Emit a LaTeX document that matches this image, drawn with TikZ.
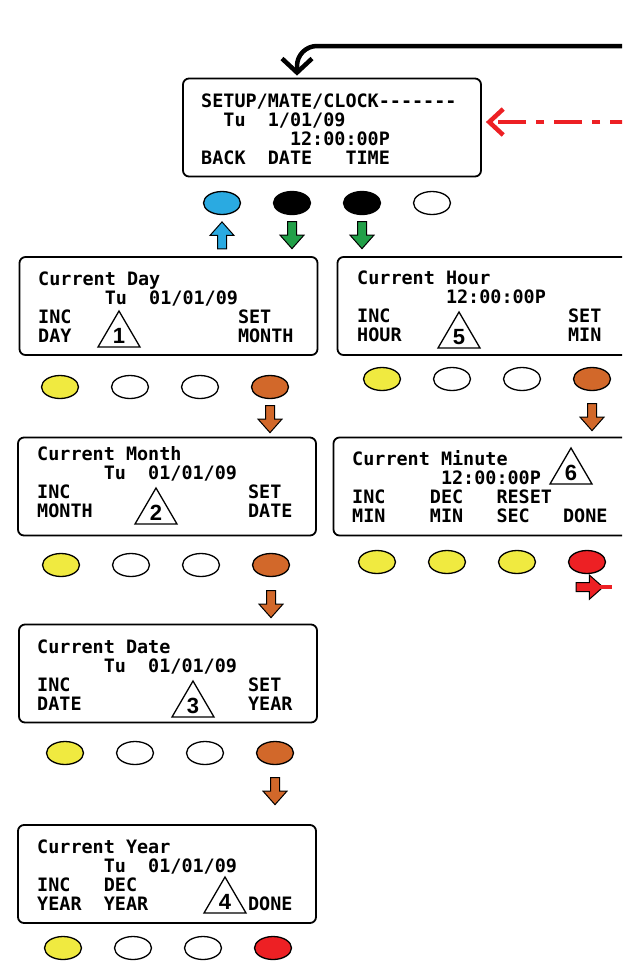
\documentclass[tikz,border=0pt]{standalone}
\usepackage{fontspec}
\newfontfamily\lcdfont{DejaVu Sans Mono}
\newfontfamily\numfont{Liberation Sans}
\usetikzlibrary{arrows.meta,shapes.geometric,shapes.arrows,positioning}

\definecolor{btnyellow}{RGB}{240,234,64}
\definecolor{btnorange}{RGB}{210,104,42}
\definecolor{btnblue}{RGB}{42,170,225}
\definecolor{btngreen}{RGB}{34,160,72}
\definecolor{btnred}{RGB}{237,32,36}

\newlength\lcdch
\newcommand\sk[1]{\hspace*{#1\lcdch}}

\tikzset{
  screen/.style={draw, rounded corners=6pt, line width=1.8pt, minimum width=298pt, minimum height=98pt, inner sep=0pt},
  lcd/.style={anchor=base west, inner sep=0pt, font=\lcdfont\bfseries\fontsize{18.44}{19}\selectfont},
  num/.style={anchor=base, inner sep=0pt, font=\numfont\bfseries\fontsize{22}{22}\selectfont},
  btn/.style={ellipse, draw, line width=1.3pt, minimum width=37pt, minimum height=23pt, inner sep=0pt, fill=#1},
  blk/.style={single arrow, draw, line width=1pt, fill=#1, minimum width=23pt, minimum height=27pt, inner sep=4pt,
    single arrow head extend=7.5pt, single arrow tip angle=83},
  pointup/.style={shape border rotate=90},
  pointdown/.style={shape border rotate=270},
  stepmark/.pic={
    \draw[line width=1.3pt] (0,0) -- (21,36) -- (-21,36) -- cycle;
    \node[num] (-n) at (0,32) {#1};
  },
}

\begin{document}
\settowidth{\lcdch}{\lcdfont\bfseries\fontsize{18.44}{19}\selectfont 0}%
\begin{tikzpicture}[x=1pt, y=-1pt]
  \fill[white] (0,0) rectangle (622,962);
  \useasboundingbox (0,0) rectangle (622,962);
  \clip (0,0) rectangle (622,962);

  % screens
  \node[screen] (setup) at (332,127.5) {};
  \node[screen] (day) at (168.5,306) {};
  \node[screen] (month) at (167,486.5) {};
  \node[screen] (date) at (168,673.5) {};
  \node[screen] (year) at (167,874) {};
  \node[screen] (hour) at (486.5,306) {};
  \node[screen] (minute) at (482.5,486.5) {};

  % screen texts
  \foreach \t [count=\i from 0] in {{SETUP/MATE/CLOCK-{}-{}-{}-{}-{}-{}-}, {\sk{2}Tu\sk{2}1/01/09}, {\sk{8}12:00:00P}, {BACK\sk{2}DATE\sk{3}TIME}}
    \node[lcd] (setup-l\i) at (201, 107+19.3*\i) {\t};
  \foreach \t [count=\i from 0] in {{Current Day}, {\sk{6}Tu\sk{2}01/01/09}, {INC\sk{15}SET}, {DAY\sk{15}MONTH}}
    \node[lcd] (day-l\i) at (38, 285+19.3*\i) {\t};
  \foreach \t [count=\i from 0] in {{Current Month}, {\sk{6}Tu\sk{2}01/01/09}, {INC\sk{16}SET}, {MONTH\sk{14}DATE}}
    \node[lcd] (month-l\i) at (37, 460+19.3*\i) {\t};
  \foreach \t [count=\i from 0] in {{Current Date}, {\sk{6}Tu\sk{2}01/01/09}, {INC\sk{16}SET}, {DATE\sk{15}YEAR}}
    \node[lcd] (date-l\i) at (37, 653+19.3*\i) {\t};
  \foreach \t [count=\i from 0] in {{Current Year}, {\sk{6}Tu\sk{2}01/01/09}, {INC\sk{3}DEC}, {YEAR\sk{2}YEAR\sk{9}DONE}}
    \node[lcd] (year-l\i) at (37, 853+19.3*\i) {\t};
  \foreach \t [count=\i from 0] in {{Current Hour}, {\sk{8}12:00:00P}, {INC\sk{16}SET}, {HOUR\sk{15}MIN}}
    \node[lcd] (hour-l\i) at (357, 284+19.3*\i) {\t};
  \foreach \t [count=\i from 0] in {{Current Minute}, {\sk{8}12:00:00P}, {INC\sk{4}DEC\sk{3}RESET}, {MIN\sk{4}MIN\sk{3}SEC\sk{3}DONE}}
    \node[lcd] (minute-l\i) at (352, 465+19.3*\i) {\t};

  % step numbers
  \pic (tri1) at (119,311) {stepmark=1};
  \pic (tri2) at (156,488) {stepmark=2};
  \pic (tri3) at (193,681) {stepmark=3};
  \pic (tri4) at (225,877) {stepmark=4};
  \pic (tri5) at (459,312) {stepmark=5};
  \pic (tri6) at (571,448) {stepmark=6};

  % buttons
  \foreach \c [count=\i] in {btnblue,black,black,white}
    \node[btn=\c] (setup-b\i) at (152+70*\i, 203) {};
  \foreach \c [count=\i] in {btnyellow,white,white,btnorange}
    \node[btn=\c] (day-b\i) at (-10+70*\i, 387) {};
  \foreach \c [count=\i] in {btnyellow,white,white,btnorange}
    \node[btn=\c] (hour-b\i) at (312+70*\i, 379) {};
  \foreach \c [count=\i] in {btnyellow,white,white,btnorange}
    \node[btn=\c] (month-b\i) at (-9+70*\i, 565) {};
  \foreach \c [count=\i] in {btnyellow,btnyellow,btnyellow,btnred}
    \node[btn=\c] (minute-b\i) at (307+70*\i, 562) {};
  \foreach \c [count=\i] in {btnyellow,white,white,btnorange}
    \node[btn=\c] (date-b\i) at (-5+70*\i, 753) {};
  \foreach \c [count=\i] in {btnyellow,white,white,btnred}
    \node[btn=\c] (year-b\i) at (-7+70*\i, 948) {};

  % block arrows
  \node[blk=btnblue, pointup, below=6pt of setup-b1] (back-arr) {};
  \node[blk=btngreen, pointdown, below=6pt of setup-b2] (date-arr) {};
  \node[blk=btngreen, pointdown, below=6pt of setup-b3] (time-arr) {};
  \node[blk=btnorange, pointdown, below=6pt of day-b4] (day-arr) {};
  \node[blk=btnorange, pointdown, below=12pt of hour-b4] (hour-arr) {};
  \node[blk=btnorange, pointdown, below=13pt of month-b4] (month-arr) {};
  \node[blk=btnorange, pointdown, below=12pt of date-b4] (date2-arr) {};
  \node[blk=btnred, below=8pt of minute-b4] (exit-arr) {};

  % loops back to the setup screen
  \coordinate (loop-in) at (640,46);
  \coordinate (done-in) at (638,122);
  \coordinate (exit-out) at (612,0);
  \draw[line width=4.5pt, rounded corners=20pt, -{Straight Barb[length=14pt,width=30pt]}, shorten >=2pt]
    (loop-in) -| ([xshift=-35pt]setup.north);
  \draw[line width=4.5pt, btnred, dash pattern=on 28pt off 10pt on 8pt off 10pt,
    -{Straight Barb[length=14pt,width=26pt]}, shorten >=4pt] (done-in) -- (done-in -| setup.east);
  \draw[line width=4.5pt, btnred] ([xshift=-5pt]exit-arr.tip) -- (exit-arr.tip -| exit-out);
\end{tikzpicture}
\end{document}
